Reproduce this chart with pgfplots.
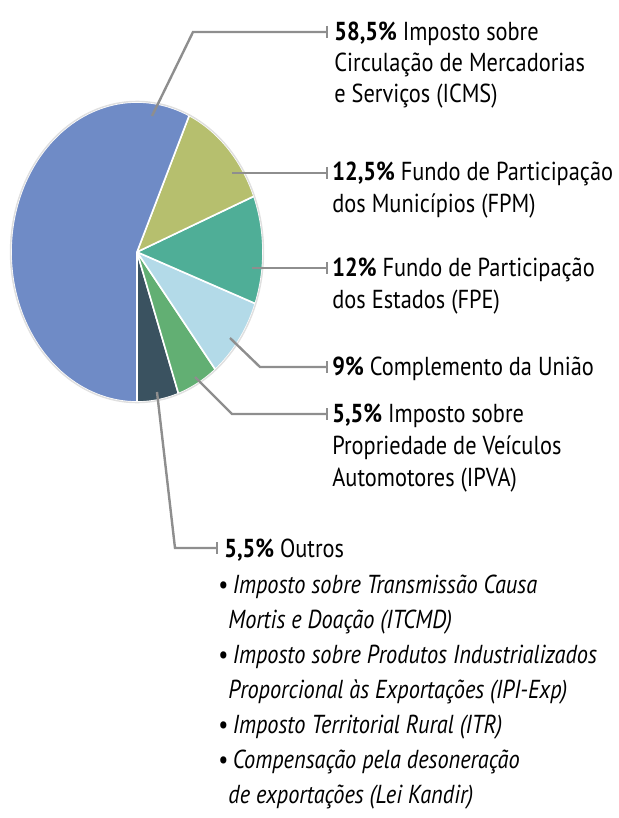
\documentclass[border=0pt]{standalone}
\usepackage{pgfplots}
\pgfplotsset{compat=1.18}
\usepackage{fontspec}
\setmainfont{PT Sans}[FakeStretch=0.86]
\definecolor{cICMS}{HTML}{6F8BC6}
\definecolor{cFPM}{HTML}{B6BF6E}
\definecolor{cFPE}{HTML}{4FAE97}
\definecolor{cCompl}{HTML}{B3DAE8}
\definecolor{cIPVA}{HTML}{62AF73}
\definecolor{cOutros}{HTML}{3A5260}
\definecolor{leader}{HTML}{8E8E8E}
% values (percent)
\def\vOutros{5.5}
\def\vIPVA{5.5}
\def\vCompl{9}
\def\vFPE{12}
\def\vFPM{12.5}
\def\vICMS{58.5}
\pgfmathsetmacro\tot{\vOutros+\vIPVA+\vCompl+\vFPE+\vFPM+\vICMS}
\pgfmathsetmacro\aA{-90}
\pgfmathsetmacro\aB{\aA+\vOutros/\tot*360}
\pgfmathsetmacro\aC{\aB+\vIPVA/\tot*360}
\pgfmathsetmacro\aD{\aC+\vCompl/\tot*360}
\pgfmathsetmacro\aE{\aD+\vFPE/\tot*360}
\pgfmathsetmacro\aF{\aE+\vFPM/\tot*360}
\pgfmathsetmacro\aG{\aF+\vICMS/\tot*360}
\newcommand{\fs}{\fontsize{13pt}{15pt}\selectfont}
\begin{document}
\begin{tikzpicture}[x=0.5pt,y=-0.5pt]
\useasboundingbox (0,0) rectangle (618,818);
\begin{axis}[at={(68.5pt,-126pt)}, anchor=center, scale only axis,
  width=126pt, height=150pt, xmin=-1, xmax=1, ymin=-1, ymax=1,
  hide axis, clip=false]
\addplot[fill=cOutros, draw=white, line width=0.8pt, domain=\aA:\aB, samples=20, variable=\t] ({cos(\t)},{sin(\t)}) -- (axis cs:0,0) -- cycle;
\addplot[fill=cIPVA, draw=white, line width=0.8pt, domain=\aB:\aC, samples=20, variable=\t] ({cos(\t)},{sin(\t)}) -- (axis cs:0,0) -- cycle;
\addplot[fill=cCompl, draw=white, line width=0.8pt, domain=\aC:\aD, samples=25, variable=\t] ({cos(\t)},{sin(\t)}) -- (axis cs:0,0) -- cycle;
\addplot[fill=cFPE, draw=white, line width=0.8pt, domain=\aD:\aE, samples=30, variable=\t] ({cos(\t)},{sin(\t)}) -- (axis cs:0,0) -- cycle;
\addplot[fill=cFPM, draw=white, line width=0.8pt, domain=\aE:\aF, samples=30, variable=\t] ({cos(\t)},{sin(\t)}) -- (axis cs:0,0) -- cycle;
\addplot[fill=cICMS, draw=white, line width=0.8pt, domain=\aF:\aG, samples=100, variable=\t] ({cos(\t)},{sin(\t)}) -- (axis cs:0,0) -- cycle;
\addplot[draw=black!12, line width=0.7pt, domain=0:360, samples=150, variable=\t] ({1.004*cos(\t)},{1.004*sin(\t)});
\end{axis}
% leader lines
\begin{scope}[draw=leader, line width=1.2pt]
\draw (152,116) -- (193,32) -- (327,32);
\draw (327,26) -- (327,38);
\draw (232,173) -- (327,173);
\draw (327,167) -- (327,179);
\draw (252,268) -- (327,268);
\draw (327,262) -- (327,274);
\draw (230,338) -- (260,367) -- (327,367);
\draw (327,361) -- (327,373);
\draw (195,377) -- (232,414) -- (327,414);
\draw (327,408) -- (327,420);
\draw (157,392) -- (175,548) -- (217,548);
\draw (217,542) -- (217,554);
\end{scope}
% labels
\begin{scope}[every node/.style={anchor=base west, inner sep=0pt, font=\fs}]
\node at (334,41) {\textbf{58,5\%} Imposto sobre};
\node at (334,72) {Circulação de Mercadorias};
\node at (334,103) {e Serviços (ICMS)};
\node at (332,181) {\textbf{12,5\%} Fundo de Participação};
\node at (332,213) {dos Municípios (FPM)};
\node at (332,276) {\textbf{12\%} Fundo de Participação};
\node at (332,308) {dos Estados (FPE)};
\node at (332,375) {\textbf{9\%} Complemento da União};
\node at (332,422) {\textbf{5,5\%} Imposto sobre};
\node at (332,454) {Propriedade de Veículos};
\node at (332,486) {Automotores (IPVA)};
\node at (224,557) {\textbf{5,5\%} Outros};
\node at (218,593) {•\,\textit{Imposto sobre Transmissão Causa}};
\node at (228,628) {\textit{Mortis e Doação (ITCMD)}};
\node at (218,663) {•\,\textit{Imposto sobre Produtos Industrializados}};
\node at (228,698) {\textit{Proporcional às Exportações (IPI-Exp)}};
\node at (218,733) {•\,\textit{Imposto Territorial Rural (ITR)}};
\node at (218,768) {•\,\textit{Compensação pela desoneração}};
\node at (228,803) {\textit{de exportações (Lei Kandir)}};
\end{scope}
\end{tikzpicture}
\end{document}
